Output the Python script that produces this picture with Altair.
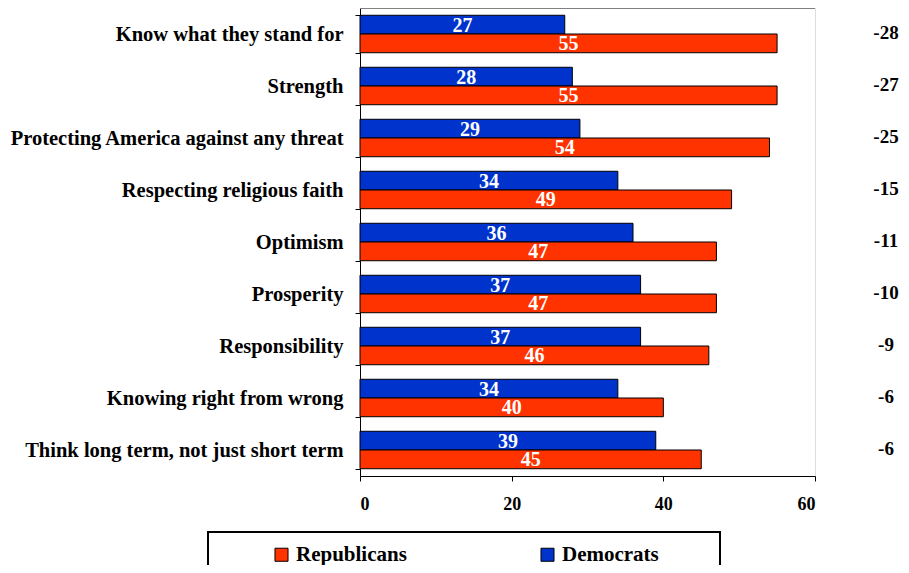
import altair as alt
import pandas as pd

categories = ["Know what they stand for", "Strength", "Protecting America against any threat",
              "Respecting religious faith", "Optimism", "Prosperity", "Responsibility",
              "Knowing right from wrong", "Think long term, not just short term"]
republicans = [55, 55, 54, 49, 47, 47, 46, 40, 45]
democrats = [27, 28, 29, 34, 36, 37, 37, 34, 39]
differences = ["-28", "-27", "-25", "-15", "-11", "-10", "-9", "-6", "-6"]
x_ticks = [0, 20, 40, 60]

rows = []
for c, r, d in zip(categories, republicans, democrats):
    rows.append({"cat": c, "party": "Democrats", "value": d})
    rows.append({"cat": c, "party": "Republicans", "value": r})
df = pd.DataFrame(rows)
diff_df = pd.DataFrame({"cat": categories, "diff": differences})

FONT = "Liberation Serif"
W, H = 455, 468

y_enc = alt.Y("cat:N", sort=categories, title=None,
              scale=alt.Scale(paddingInner=0.28, paddingOuter=0.14),
              axis=alt.Axis(tickBand="extent", tickSize=5, labelPadding=12, labelLimit=500,
                            labelFont=FONT, labelFontSize=20.5, labelFontWeight="bold",
                            labelColor="black", domainColor="black", tickColor="black"))
yoff = alt.YOffset("party:N", sort=["Democrats", "Republicans"],
                   scale=alt.Scale(domain=["Democrats", "Republicans"], paddingInner=0, paddingOuter=0))
x_scale = alt.Scale(domain=[0, 60], nice=False)

bars = alt.Chart(df).mark_bar(stroke="black", strokeWidth=1, cornerRadius=0).encode(
    x=alt.X("value:Q", scale=x_scale, title=None,
            axis=alt.Axis(values=x_ticks, grid=False, tickSize=5, labelPadding=14,
                          labelFont=FONT, labelFontSize=18, labelFontWeight="bold",
                          labelColor="black", domainColor="black", tickColor="black")),
    y=y_enc,
    yOffset=yoff,
    color=alt.Color("party:N",
                    scale=alt.Scale(domain=["Republicans", "Democrats"], range=["#FF3300", "#0033CC"]),
                    legend=alt.Legend(title=None, orient="none", legendX=-152, legendY=524,
                                      direction="horizontal", symbolType="square", symbolSize=170,
                                      symbolStrokeColor="black", symbolStrokeWidth=1,
                                      symbolOffset=51, columnPadding=79, padding=12,
                                      labelFont=FONT, labelFontSize=21,
                                      labelFontWeight="bold", labelColor="black", labelLimit=300)),
)

labels = alt.Chart(df).transform_calculate(mid="datum.value / 2").mark_text(
    color="white", font=FONT, fontSize=20, fontWeight="bold", baseline="middle", dy=1
).encode(
    x=alt.X("mid:Q", scale=x_scale),
    y=alt.Y("cat:N", sort=categories),
    yOffset=yoff,
    text=alt.Text("value:Q"),
)

diffs = alt.Chart(diff_df).mark_text(
    color="black", font=FONT, fontSize=19, fontWeight="bold", baseline="middle", align="center", dy=-1
).encode(
    x=alt.value(526),
    y=alt.Y("cat:N", sort=categories),
    text="diff:N",
)

top_rule = alt.Chart(diff_df).mark_rule(color="#808080", strokeWidth=2).encode(
    x=alt.value(0), x2=alt.value(W), y=alt.value(0)
)

legend_box = alt.Chart(diff_df).mark_rect(fill=None, stroke="black", strokeWidth=1.2).encode(
    x=alt.value(-152), x2=alt.value(360), y=alt.value(524), y2=alt.value(600)
)

chart = alt.layer(bars, labels, diffs, top_rule, legend_box).properties(
    width=W, height=H, autosize=alt.AutoSizeParams(type="none"),
    padding={"left": 352, "top": 0, "right": 86, "bottom": 89},
).configure_view(stroke="black", strokeWidth=1).configure(background="white")

chart.save("out.html", embed_options={"renderer": "svg", "actions": False})
